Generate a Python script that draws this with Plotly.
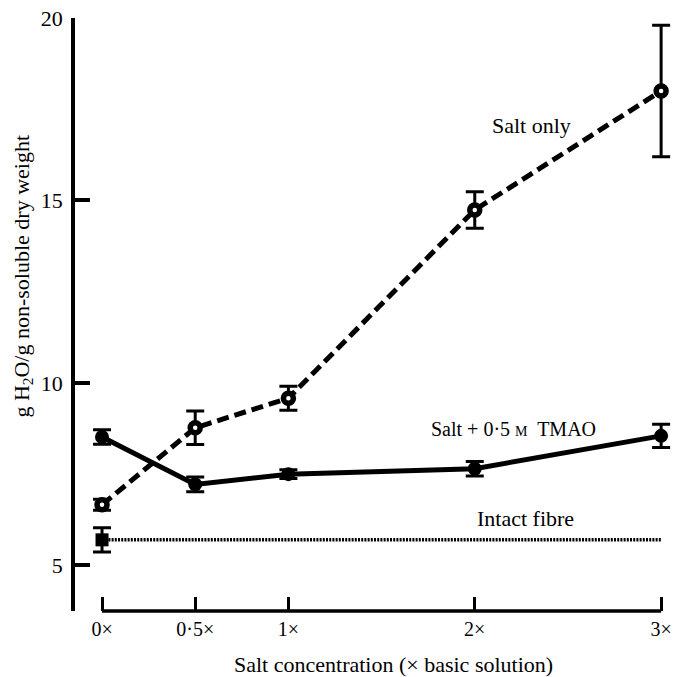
import plotly.graph_objects as go

# Salt concentration, in multiples of the basic solution
conc = [0, 0.5, 1, 2, 3]
conc_labels = ["0×", "0·5×", "1×", "2×", "3×"]

# g H2O / g non-soluble dry weight
salt_only = [6.66, 8.77, 9.58, 14.74, 18.0]
salt_only_err = [0.15, 0.46, 0.33, 0.5, 1.8]

salt_tmao = [8.52, 7.22, 7.5, 7.65, 8.55]
salt_tmao_err = [0.2, 0.2, 0.12, 0.2, 0.32]

intact_fibre = 5.7
intact_fibre_err = 0.33

y_ticks = [5, 10, 15, 20]

FONT = "Liberation Serif"
INK = "black"

fig = go.Figure()

# Intact fibre reference level (dotted) with its single measured point
fig.add_trace(go.Scatter(
    x=[conc[0], conc[-1]], y=[intact_fibre, intact_fibre],
    mode="lines", line=dict(color=INK, width=3.5, dash="2px,1.2px"),
    hoverinfo="skip", showlegend=False,
))
fig.add_trace(go.Scatter(
    x=[conc[0]], y=[intact_fibre],
    mode="markers",
    marker=dict(symbol="square", size=13, color=INK),
    error_y=dict(type="data", array=[intact_fibre_err], color=INK, thickness=3, width=9),
    showlegend=False,
))

# Salt + 0.5 M TMAO (solid, filled markers)
fig.add_trace(go.Scatter(
    x=conc, y=salt_tmao, mode="lines+markers",
    line=dict(color=INK, width=5),
    marker=dict(symbol="circle", size=14, color=INK),
    error_y=dict(type="data", array=salt_tmao_err, color=INK, thickness=3, width=9),
    showlegend=False,
))

# Salt only (dashed, open markers)
fig.add_trace(go.Scatter(
    x=conc, y=salt_only, mode="lines+markers",
    line=dict(color=INK, width=5, dash="12px,6px"),
    marker=dict(symbol="circle", size=10, color="white", line=dict(color=INK, width=5.5)),
    error_y=dict(type="data", array=salt_only_err, color=INK, thickness=3, width=9),
    showlegend=False,
))

# Detached x-axis baseline running only over the data span
fig.add_shape(type="line", xref="x", yref="paper",
              x0=conc[0], x1=conc[-1], y0=0, y1=0,
              line=dict(color=INK, width=3.5))

fig.update_xaxes(
    range=[-0.145, 3.053],
    tickvals=conc, ticktext=conc_labels,
    ticks="inside", ticklen=14, tickwidth=3, tickcolor=INK,
    showline=False, showgrid=False, zeroline=False,
    ticklabelstandoff=4,
    tickfont=dict(family=FONT, size=20, color=INK),
)
fig.update_yaxes(
    range=[3.75, 20],
    tickvals=y_ticks,
    ticks="inside", ticklen=15, tickwidth=3.5, tickcolor=INK,
    showline=True, linewidth=3.5, linecolor=INK,
    showgrid=False, zeroline=False,
    ticklabelstandoff=4,
    tickfont=dict(family=FONT, size=22, color=INK),
)

annotations = [
    dict(text="Salt only", x=2.303, y=17.05, xref="x", yref="y", size=22),
    dict(text="Salt + 0·5 <span style='font-size:14px'>M</span>  TMAO", x=2.206, y=8.74,
         xref="x", yref="y", size=20),
    dict(text="Intact fibre", x=2.27, y=6.29, xref="x", yref="y", size=22),
    dict(text="Salt concentration (× basic solution)", x=0.534, y=-0.0906,
         xref="paper", yref="paper", size=22),
    dict(text="g H<sub>2</sub>O/g non-soluble dry weight", x=-0.0888, y=0.564,
         xref="paper", yref="paper", textangle=-90, size=22),
]
for a in annotations:
    size = a.pop("size")
    fig.add_annotation(**a, showarrow=False, xanchor="center", yanchor="middle",
                       font=dict(family=FONT, size=size, color=INK))

fig.update_layout(
    width=678, height=677,
    margin=dict(l=75, r=6, t=15, b=66),
    plot_bgcolor="white", paper_bgcolor="white",
    font=dict(family=FONT, color=INK),
)

fig.write_html("out.html")
